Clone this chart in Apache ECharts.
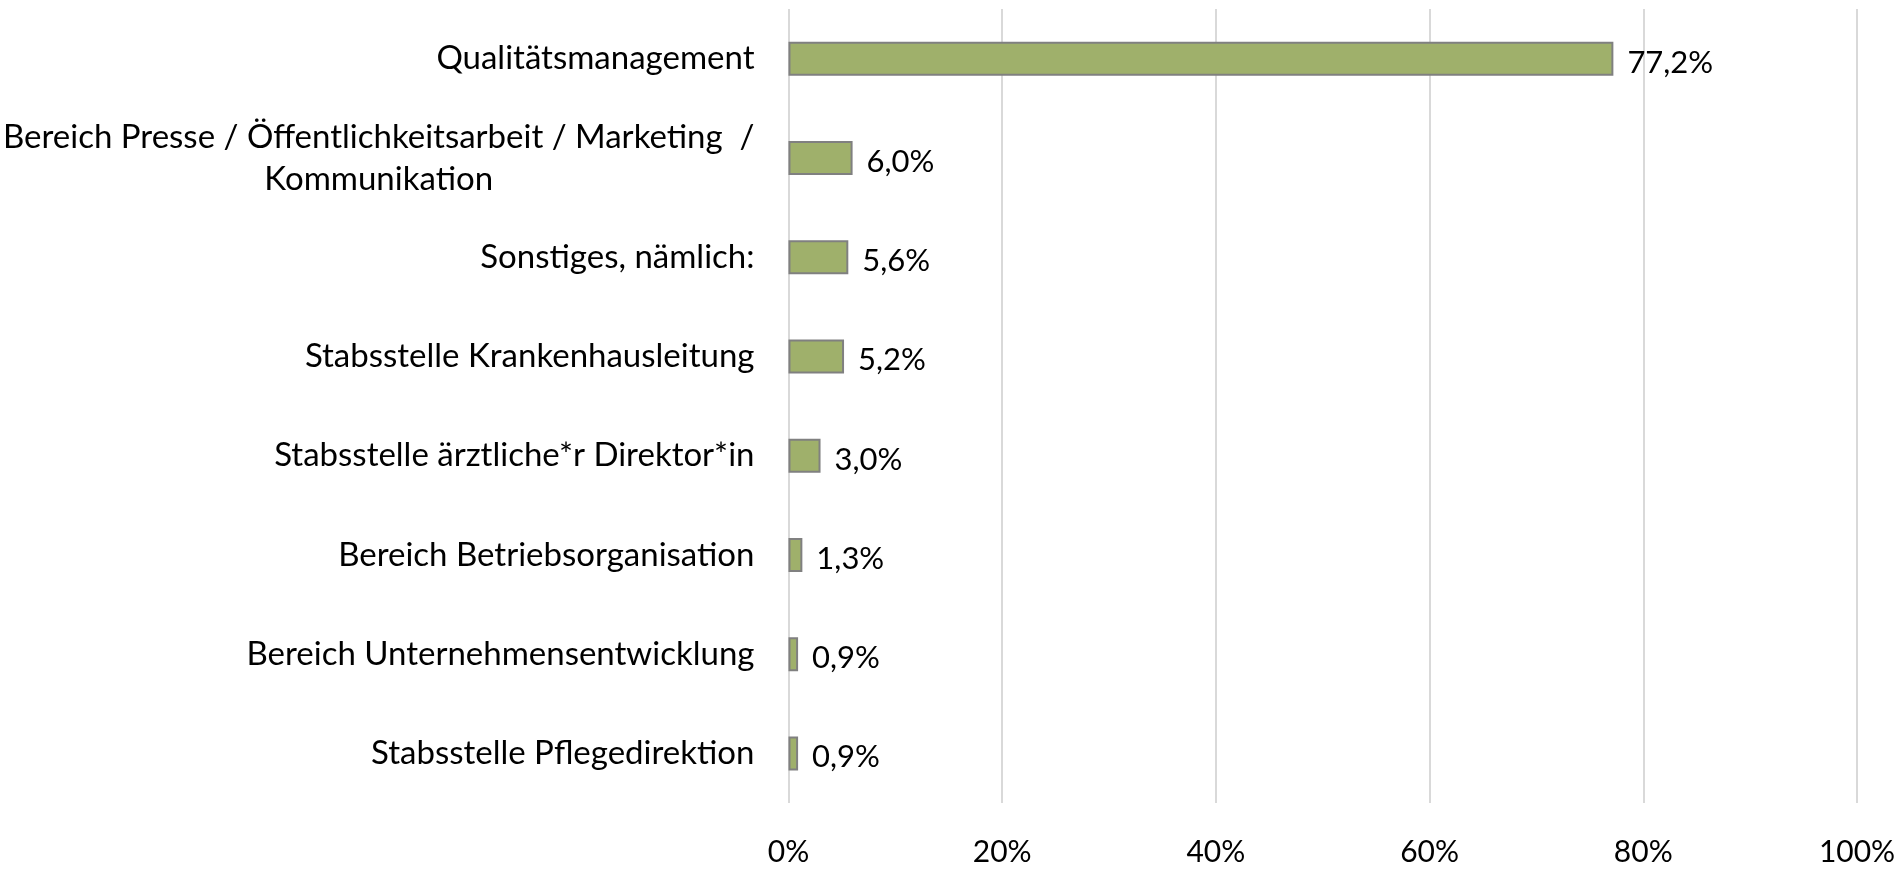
<!DOCTYPE html>
<html>
<head>
<meta charset="utf-8">
<script src="https://cdn.jsdelivr.net/npm/echarts@6/dist/echarts.min.js"></script>
<style>
html,body{margin:0;padding:0;background:#fff;}
#chart{width:1901px;height:869px;}
</style>
</head>
<body>
<div id="chart"></div>
<script>
const categories = [
  "Qualitätsmanagement",
  "Bereich Presse / Öffentlichkeitsarbeit / Marketing  /\nKommunikation",
  "Sonstiges, nämlich:",
  "Stabsstelle Krankenhausleitung",
  "Stabsstelle ärztliche*r Direktor*in",
  "Bereich Betriebsorganisation",
  "Bereich Unternehmensentwicklung",
  "Stabsstelle Pflegedirektion"
];
const values = [77.2, 6.0, 5.6, 5.2, 3.0, 1.3, 0.9, 0.9];
const tickLabels = ["0%", "20%", "40%", "60%", "80%", "100%"];

const FONT = "Lato";
const CAT_SIZE = 33;
const chart = echarts.init(document.getElementById('chart'));
chart.setOption({
  animation: false,
  backgroundColor: '#fff',
  grid: { left: 787, right: 44, top: 9, bottom: 66, containLabel: false },
  xAxis: {
    type: 'value', min: 0, max: 100, interval: 20,
    axisLine: { show: false }, axisTick: { show: false },
    splitLine: { show: true, lineStyle: { color: '#d9d9d9', width: 2 } },
    axisLabel: {
      margin: 34, fontFamily: FONT, fontSize: 30, color: '#000',
      formatter: function (v) { return tickLabels[Math.round(v / 20)]; }
    }
  },
  yAxis: {
    type: 'category', inverse: true, data: categories,
    axisLine: { show: false }, axisTick: { show: false },
    axisLabel: {
      margin: 34, fontFamily: FONT, fontSize: CAT_SIZE, color: '#000', lineHeight: 42,
      formatter: function (v) {
        if (v.indexOf('\n') >= 0) {
          const parts = v.split('\n');
          return '{a|' + parts[0] + '}\n{c|' + parts[1] + '}';
        }
        return v;
      },
      rich: {
        a: { fontFamily: FONT, fontSize: CAT_SIZE, color: '#000', lineHeight: 42 },
        c: { fontFamily: FONT, fontSize: CAT_SIZE, color: '#000', lineHeight: 42, align: 'center' }
      }
    }
  },
  series: [{
    type: 'bar', data: values, barWidth: 34,
    itemStyle: { color: '#9fb06b', borderColor: '#808080', borderWidth: 2 },
    label: {
      show: true, position: 'right', distance: 14,
      fontFamily: FONT, fontSize: 31, color: '#000', offset: [0, 4],
      formatter: function (p) { return p.value.toFixed(1).replace('.', ',') + '%'; }
    }
  }]
});
</script>
</body>
</html>
